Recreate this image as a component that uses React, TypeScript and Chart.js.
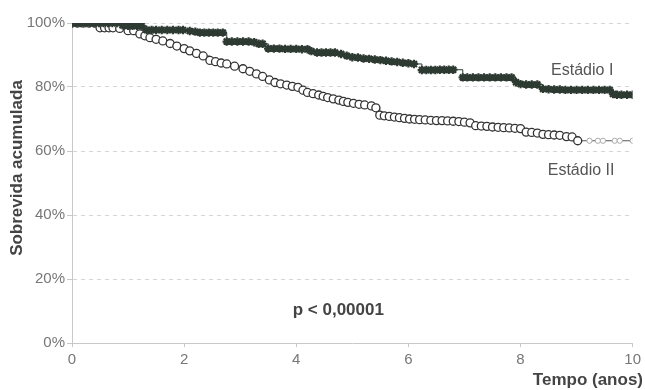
import React, { useEffect, useRef } from "react";
import { Chart, registerables } from "chart.js";

Chart.register(...registerables);

// Estádio I (stars)
const timesI = [
  0, 0.08, 0.16, 0.24, 0.32, 0.4, 0.48, 0.56, 0.64, 0.72, 0.8,
  0.9, 1.0, 1.08, 1.16, 1.24,
  1.33, 1.42, 1.5, 1.6, 1.7, 1.8, 1.9, 1.98,
  2.1, 2.2, 2.28, 2.36, 2.44, 2.52, 2.6, 2.69,
  2.76, 2.85, 2.95, 3.05, 3.15, 3.25, 3.33, 3.4,
  3.5, 3.6, 3.7, 3.8, 3.9, 4.0, 4.1, 4.2,
  4.27, 4.37, 4.45, 4.53, 4.61, 4.69,
  4.8, 4.9, 5.0, 5.1, 5.2, 5.3, 5.4, 5.5, 5.6, 5.7, 5.8, 5.9, 6.0, 6.1,
  6.24, 6.32, 6.4, 6.48, 6.56, 6.64, 6.72, 6.8,
  6.97, 7.05, 7.15, 7.25, 7.35, 7.45, 7.55, 7.65, 7.75, 7.84,
  7.92, 8.0, 8.1, 8.2, 8.3,
  8.4, 8.5, 8.6, 8.7, 8.8, 8.9, 9.0, 9.1, 9.2, 9.3, 9.4, 9.5, 9.59,
  9.65, 9.72, 9.8, 9.9, 10,
];
const survI = [
  100, 100, 100, 100, 100, 100, 100, 100, 100, 100, 100,
  99.3, 99.1, 99.1, 99.1, 99.1,
  97.8, 97.8, 97.8, 97.8, 97.8, 97.8, 97.8, 97.8,
  97.5, 97.3, 97.0, 97.0, 97.0, 97.0, 97.0, 97.0,
  94.2, 94.2, 94.2, 94.2, 94.2, 94.0, 93.5, 93.5,
  92.0, 92.0, 92.0, 91.9, 91.9, 91.9, 91.8, 91.8,
  91.2, 90.8, 90.8, 90.8, 90.8, 90.8,
  90.3, 89.8, 89.3, 89.2, 88.9, 88.8, 88.6, 88.4, 88.2, 88.0, 87.8, 87.6, 87.4, 87.2,
  85.3, 85.3, 85.3, 85.3, 85.4, 85.4, 85.4, 85.4,
  83.0, 83.0, 83.0, 83.0, 83.0, 83.0, 83.0, 83.0, 83.0, 83.0,
  81.5, 80.9, 80.8, 80.8, 80.8,
  79.4, 79.3, 79.2, 79.2, 79.1, 79.1, 79.1, 79.1, 79.1, 79.1, 79.1, 79.1, 79.1,
  77.8, 77.6, 77.6, 77.6, 77.6,
];

// Estádio II (open circles)
const timesII = [
  0, 0.1, 0.2, 0.3, 0.4,
  0.5, 0.58, 0.66, 0.73,
  0.85, 1.0, 1.1, 1.21, 1.3, 1.39, 1.5, 1.62, 1.75, 1.87,
  2.0, 2.1, 2.22, 2.34, 2.46, 2.56, 2.66, 2.76, 2.9,
  3.05, 3.17, 3.29, 3.4, 3.52, 3.62, 3.72, 3.83, 3.93,
  4.03, 4.12, 4.2, 4.3, 4.4, 4.48, 4.56, 4.66, 4.76, 4.84, 4.92,
  5.02, 5.12, 5.22, 5.34, 5.42,
  5.49, 5.57, 5.66, 5.75, 5.84, 5.93, 6.02, 6.11, 6.2, 6.3, 6.4, 6.5, 6.6, 6.7, 6.8, 6.9, 7.0, 7.1,
  7.2, 7.3, 7.4, 7.5, 7.6, 7.7, 7.8, 7.9, 8.0,
  8.1, 8.2, 8.3, 8.4, 8.5, 8.6, 8.7, 8.82, 8.92,
  9.02, 9.23, 9.38, 9.47, 9.68, 9.77, 10,
];
const survII = [
  100, 100, 100, 100, 100,
  98.5, 98.5, 98.5, 98.5,
  98.3, 97.6, 97.6, 96.6, 96.0, 95.4, 94.9, 94.4, 93.6, 92.8,
  92.0, 91.3, 90.5, 89.7, 88.3, 87.9, 87.5, 87.2, 86.5,
  85.7, 84.9, 84.1, 83.3, 82.2, 81.4, 81.0, 80.6, 80.2,
  79.9, 79.0, 78.3, 77.9, 77.5, 77.1, 76.7, 76.3, 75.9, 75.5, 75.2,
  74.9, 74.6, 74.4, 74.1, 73.5,
  71.2, 71.0, 70.8, 70.6, 70.4, 70.2, 70.0, 69.9, 69.8, 69.7, 69.6, 69.5, 69.5, 69.4, 69.3, 69.2, 69.0, 68.8,
  67.9, 67.8, 67.7, 67.5, 67.4, 67.3, 67.2, 67.1, 67.0,
  65.9, 65.8, 65.6, 65.2, 65.1, 65.0, 64.9, 64.5, 64.4,
  63.2, 63.2, 63.2, 63.2, 63.2, 63.2, 63.2,
];

const seriesLabels = ["Estádio I", "Estádio II"];
const yTitle = "Sobrevida acumulada";
const xTitle = "Tempo (anos)";
const pValueText = "p < 0,00001";

const FONT = "'Liberation Sans', Arial, Helvetica, sans-serif";

const textPlugin = {
  id: "kmTexts",
  afterDatasetsDraw(chart: any) {
    const { ctx, scales } = chart;
    const xs = scales.x;
    const ys = scales.y;
    ctx.save();
    ctx.fillStyle = "#555";
    ctx.font = `16px ${FONT}`;
    ctx.textAlign = "center";
    ctx.textBaseline = "middle";
    ctx.fillText(seriesLabels[0], xs.getPixelForValue(9.1), ys.getPixelForValue(85));
    ctx.fillText(seriesLabels[1], xs.getPixelForValue(9.08), ys.getPixelForValue(53.8));
    ctx.fillStyle = "#444";
    ctx.font = `bold 17px ${FONT}`;
    ctx.fillText(pValueText, xs.getPixelForValue(4.75), ys.getPixelForValue(10.3));
    ctx.font = `bold 17px ${FONT}`;
    ctx.textAlign = "right";
    ctx.fillStyle = "#444";
    ctx.fillText(xTitle, chart.width - 2, 380);
    ctx.translate(17.5, 168);
    ctx.rotate(-Math.PI / 2);
    ctx.textAlign = "center";
    ctx.fillText(yTitle, 0, 0);
    ctx.restore();
  },
};

export default function App() {
  const canvasRef = useRef<HTMLCanvasElement | null>(null);

  useEffect(() => {
    const canvas = canvasRef.current;
    if (!canvas) return;
    const dataI = timesI.map((t, i) => ({ x: t, y: survI[i] }));
    const dataII = timesII.map((t, i) => ({ x: t, y: survII[i] }));

    const chart = new Chart(canvas, {
      type: "scatter",
      data: {
        datasets: [
          {
            label: seriesLabels[0],
            data: dataI,
            showLine: true,
            stepped: "before",
            borderColor: "#2d3a32",
            borderWidth: 1,
            pointStyle: "star",
            pointRadius: 4.2,
            pointBorderWidth: 2.2,
            pointBorderColor: "#2d3a32",
            pointBackgroundColor: "#2d3a32",
          },
          {
            label: seriesLabels[1],
            data: dataII,
            showLine: true,
            stepped: "before",
            borderColor: "#555",
            borderWidth: 1,
            pointStyle: "circle",
            pointRadius: (c: any) => (c.raw && c.raw.x > 9.1 ? 2.6 : 4),
            pointBorderWidth: (c: any) => (c.raw && c.raw.x > 9.1 ? 1 : 1.3),
            pointBorderColor: (c: any) => (c.raw && c.raw.x > 9.1 ? "#aaa" : "#333"),
            pointBackgroundColor: "#ffffff",
          },
        ],
      },
      options: {
        responsive: false,
        animation: false,
        devicePixelRatio: 1,
        layout: { padding: { left: 0, right: 12, top: 23, bottom: 0 } },
        plugins: {
          legend: { display: false },
          tooltip: { enabled: false },
        },
        scales: {
          x: {
            type: "linear",
            min: 0,
            max: 10,
            afterFit: (s: any) => {
              s.height = 47;
            },
            ticks: {
              stepSize: 2,
              color: "#777",
              font: { size: 15, family: FONT },
              padding: 4,
            },
            grid: {
              drawOnChartArea: false,
              drawTicks: true,
              tickLength: 4,
              color: "#c8c8c8",
            },
            border: { display: true, color: "#c8c8c8", width: 1 },
          },
          y: {
            type: "linear",
            min: 0,
            max: 100,
            afterFit: (s: any) => {
              s.width = 72;
            },
            ticks: {
              stepSize: 20,
              color: "#777",
              font: { size: 15, family: FONT },
              padding: 2,
              callback: (v: any) => `${v}%`,
            },
            grid: {
              color: "#d6d6d6",
              tickLength: 5,
              tickColor: "#c8c8c8",
              tickBorderDash: [],
            },
            border: { display: true, color: "#c8c8c8", width: 1, dash: [4, 4] },
          },
        },
      },
      plugins: [textPlugin],
    });

    return () => {
      chart.destroy();
    };
  }, []);

  return (
    <div style={{ position: "absolute", left: 0, top: 0, width: 645, height: 390, background: "#fff" }}>
      <canvas ref={canvasRef} width={645} height={390} style={{ width: 645, height: 390 }} />
    </div>
  );
}
